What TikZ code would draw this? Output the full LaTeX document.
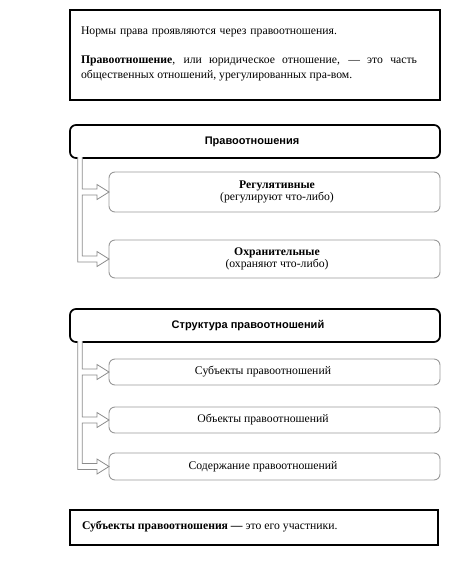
\documentclass[tikz,border=0pt]{standalone}
\usepackage{fontspec}
\setmainfont{Liberation Serif}
\setsansfont{Liberation Sans}
\usetikzlibrary{calc}
\begin{document}
\begin{tikzpicture}[x=1pt,y=-1pt,
  every node/.style={inner sep=0pt,outer sep=0pt},
  plainbox/.style={draw=black,line width=1.2pt},
  headbox/.style={draw=black,line width=1.7pt,rounded corners=6pt,fill=white},
  subbox/.style={draw=black!40,line width=0.9pt,rounded corners=6pt,fill=white},
  txt/.style={font=\fontsize{11.7}{13}\selectfont,anchor=west},
  ctxt/.style={font=\fontsize{11.7}{12.5}\selectfont},
  htxt/.style={font=\sffamily\bfseries\fontsize{11}{13}\selectfont},
  arrowline/.style={draw=black!45,line width=0.8pt,fill=white,line join=miter}
]
\useasboundingbox (0,0) rectangle (469,587);
% top box
\node[plainbox,minimum width=370pt,minimum height=90pt] (intro) at (255,55) {};
\node[txt] (l1) at (81,32) {\makebox[256pt][s]{Нормы права проявляются через правоотношения.}};
\node[txt] (l2) at (81,61) {\makebox[336pt][s]{\textbf{Правоотношение}, или юридическое отношение, — это часть}};
\node[txt] (l3) at (81,76) {общественных отношений, урегулированных пра-вом.};

% header 1
\node[headbox,minimum width=370pt,minimum height=33pt] (h1) at (255,141.5) {};
\node[htxt] (h1t) at (252,142) {Правоотношения};
\node[subbox,minimum width=331pt,minimum height=40pt] (reg) at (274.5,192) {};
\node[ctxt,align=center] (regt) at (277,192) {\textbf{Регулятивные}\\(регулируют что-либо)};
\node[subbox,minimum width=331pt,minimum height=38pt] (okh) at (274.5,259) {};
\node[ctxt,align=center] (okht) at (277,259) {\textbf{Охранительные}\\(охраняют что-либо)};

% header 2
\node[headbox,minimum width=370pt,minimum height=33pt] (h2) at (255,325.5) {};
\node[htxt] (h2t) at (248,325.5) {Структура правоотношений};
\node[subbox,minimum width=331pt,minimum height=26pt] (s1) at (274.5,372) {};
\node[ctxt] (s1t) at (263,372) {Субъекты правоотношений};
\node[subbox,minimum width=331pt,minimum height=26pt] (s2) at (274.5,420) {};
\node[ctxt] (s2t) at (263,420) {Объекты правоотношений};
\node[subbox,minimum width=331pt,minimum height=27pt] (s3) at (274.5,466.5) {};
\node[ctxt] (s3t) at (263,466.5) {Содержание правоотношений};

% bottom box
\node[plainbox,minimum width=368pt,minimum height=35pt] (outro) at (254,527.5) {};
\node[txt] (b1) at (82,527) {\textbf{Субъекты правоотношения —} это его участники.};

% arrows group 1
\path[arrowline]
  ($(h1.south west)+(7.7,-0.8)$) |- ($(okh.west)+(-12,3)$)
  -- ($(okh.west)+(-12,7.5)$) -- (okh.west) -- ($(okh.west)+(-12,-7.5)$)
  -- ($(okh.west)+(-12,-3)$) -- ($(okh.west)+(-26.7,-3)$)
  -- ($(reg.west)+(-26.7,3)$) -- ($(reg.west)+(-12,3)$)
  -- ($(reg.west)+(-12,7.5)$) -- (reg.west) -- ($(reg.west)+(-12,-7.5)$)
  -- ($(reg.west)+(-12,-3)$) -- ($(reg.west)+(-26.7,-3)$)
  -- ($(h1.south west)+(12.3,-0.8)$);
% arrows group 2
\path[arrowline]
  ($(h2.south west)+(7.7,-0.8)$) |- ($(s3.west)+(-12,3)$)
  -- ($(s3.west)+(-12,7.5)$) -- (s3.west) -- ($(s3.west)+(-12,-7.5)$)
  -- ($(s3.west)+(-12,-3)$) -- ($(s3.west)+(-26.7,-3)$)
  -- ($(s2.west)+(-26.7,3)$) -- ($(s2.west)+(-12,3)$)
  -- ($(s2.west)+(-12,7.5)$) -- (s2.west) -- ($(s2.west)+(-12,-7.5)$)
  -- ($(s2.west)+(-12,-3)$) -- ($(s2.west)+(-26.7,-3)$)
  -- ($(s1.west)+(-26.7,3)$) -- ($(s1.west)+(-12,3)$)
  -- ($(s1.west)+(-12,7.5)$) -- (s1.west) -- ($(s1.west)+(-12,-7.5)$)
  -- ($(s1.west)+(-12,-3)$) -- ($(s1.west)+(-26.7,-3)$)
  -- ($(h2.south west)+(12.3,-0.8)$);
\end{tikzpicture}
\end{document}
